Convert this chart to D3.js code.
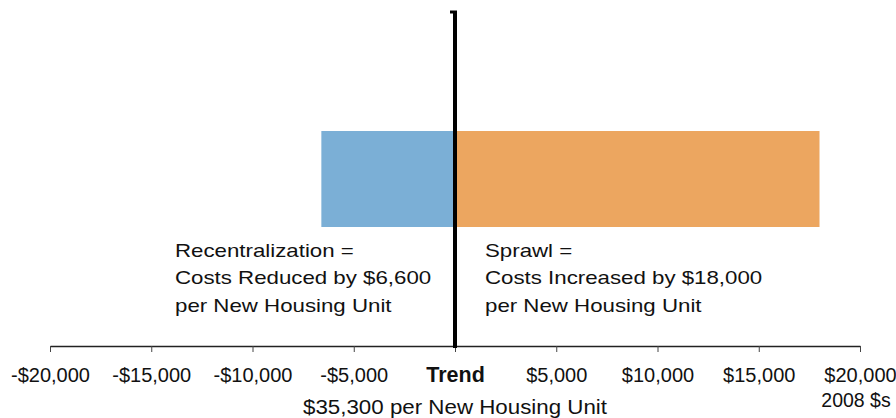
<!DOCTYPE html>
<html>
<head>
<meta charset="utf-8">
<script src="https://cdn.jsdelivr.net/npm/d3@7"></script>
<style>
  html, body { margin: 0; padding: 0; background: #fff; }
  svg { display: block; font-family: "Liberation Sans", Arial, sans-serif; }
</style>
</head>
<body>
<svg id="chart" width="896" height="418"></svg>
<script>
// Change in infrastructure cost per new housing unit relative to trend (2008 dollars)
const scenarios = ["Recentralization", "Sprawl"];
const costChange = [-6600, 18000];
const barColors = ["#7bafd6", "#eca660"];
const tickValues = [-20000, -15000, -10000, -5000, 0, 5000, 10000, 15000, 20000];
const tickLabels = ["-$20,000", "-$15,000", "-$10,000", "-$5,000", "Trend", "$5,000", "$10,000", "$15,000", "$20,000"];
const noteLines = [
  ["Recentralization =", "Costs Reduced by $6,600", "per New Housing Unit"],
  ["Sprawl =", "Costs Increased by $18,000", "per New Housing Unit"]
];
const trendLabel = "$35,300 per New Housing Unit";
const unitLabel = "2008 $s";

const svg = d3.select("#chart");
const x = d3.scaleLinear().domain([-20000, 20000]).range([50, 860]);
const axisY = 346;
const barTop = 131, barBottom = 227;

// Bars, anchored at the trend line
svg.append("g").selectAll("rect")
  .data(costChange)
  .join("rect")
  .attr("x", d => Math.min(x(0), x(d)))
  .attr("width", d => Math.abs(x(d) - x(0)))
  .attr("y", barTop)
  .attr("height", barBottom - barTop)
  .attr("fill", (d, i) => barColors[i]);

// Horizontal axis
const axis = d3.axisBottom(x)
  .tickValues(tickValues)
  .tickSize(6)
  .tickSizeOuter(0)
  .tickFormat((d, i) => tickLabels[i]);

const gAxis = svg.append("g")
  .attr("transform", `translate(0,${axisY})`)
  .call(axis);
gAxis.select(".domain").attr("stroke", "#222").attr("stroke-width", 1.5);
gAxis.selectAll(".tick line").attr("stroke", "#444").attr("stroke-width", 1);
gAxis.selectAll(".tick text")
  .attr("y", 36)
  .attr("dy", 0)
  .attr("fill", "#111")
  .style("font-size", d => d === 0 ? "21.5px" : "20px")
  .style("font-family", "'Liberation Sans', Arial, sans-serif")
  .style("font-weight", d => d === 0 ? "bold" : "normal");

// Trend line with a small cap at the top
svg.append("line")
  .attr("x1", x(0)).attr("x2", x(0))
  .attr("y1", 11).attr("y2", axisY + 2)
  .attr("stroke", "#000").attr("stroke-width", 4);
svg.append("line")
  .attr("x1", x(0) - 5).attr("x2", x(0) + 2)
  .attr("y1", 12).attr("y2", 12)
  .attr("stroke", "#000").attr("stroke-width", 3);

// Annotation text on either side of the trend line (slightly widened lettering)
const noteX = [175, 485];
noteLines.forEach((lines, i) => {
  const t = svg.append("text")
    .attr("transform", `translate(${noteX[i]},257) scale(1.16,1)`)
    .attr("fill", "#111")
    .style("font-size", "19.2px");
  lines.forEach((line, j) => {
    t.append("tspan")
      .attr("x", 0)
      .attr("dy", j === 0 ? 0 : 27.5)
      .text(line);
  });
});

// Trend value and unit labels under the axis
svg.append("text")
  .attr("transform", `translate(${x(0)},414) scale(1.1,1)`)
  .attr("text-anchor", "middle")
  .attr("fill", "#111")
  .style("font-size", "20.3px")
  .text(trendLabel);

svg.append("text")
  .attr("x", 856).attr("y", 407)
  .attr("text-anchor", "middle")
  .attr("fill", "#111")
  .style("font-size", "19.5px")
  .text(unitLabel);
</script>
</body>
</html>
